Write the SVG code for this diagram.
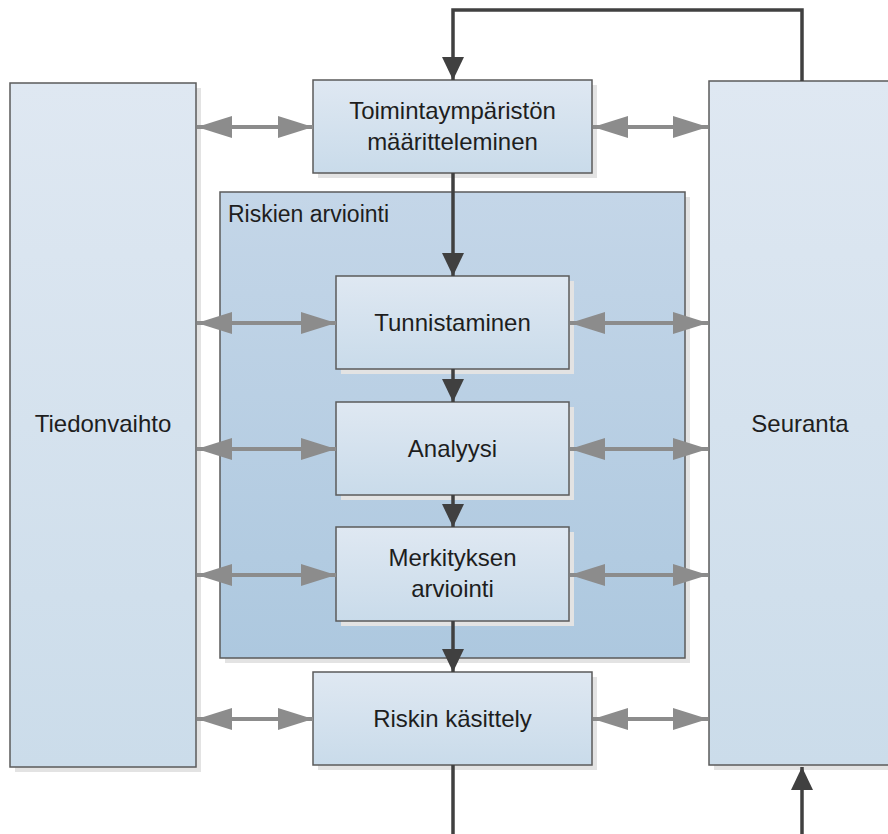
<svg xmlns="http://www.w3.org/2000/svg" width="888" height="834" viewBox="0 0 888 834">
<defs>
<linearGradient id="gNode" x1="0" y1="0" x2="0" y2="1"><stop offset="0" stop-color="#dfe8f2"/><stop offset="1" stop-color="#c9dbea"/></linearGradient>
<linearGradient id="gSide" x1="0" y1="0" x2="0" y2="1"><stop offset="0" stop-color="#dfe8f2"/><stop offset="1" stop-color="#cbdcea"/></linearGradient>
<linearGradient id="gCont" x1="0" y1="0" x2="0" y2="1"><stop offset="0" stop-color="#c4d6e8"/><stop offset="1" stop-color="#adc8df"/></linearGradient>
<marker id="dark" markerUnits="userSpaceOnUse" markerWidth="24" markerHeight="24" viewBox="0 0 24 24" refX="23" refY="12" orient="auto"><path d="M0,1 L23,12 L0,23 Z" fill="#404040"/></marker>
<marker id="gray" markerUnits="userSpaceOnUse" markerWidth="36" markerHeight="24" viewBox="0 0 36 24" refX="35" refY="12" orient="auto-start-reverse"><path d="M0,1 L35,12 L0,23 Z" fill="#8c8c8c"/></marker>
</defs>
<style>
.shadow{fill:#e3e3e3}
.box{stroke:#5b5b5b;stroke-width:1.5}
.lbl{font-family:"Liberation Sans",Arial,sans-serif;font-size:24px;fill:#1e1e1e;text-anchor:middle}
.dk{stroke:#404040;stroke-width:3.5;fill:none}
.gr{stroke:#8c8c8c;stroke-width:4;fill:none}
</style>
<rect width="888" height="834" fill="#ffffff"/>
<g id="tiedonvaihto">
<rect class="shadow" x="15" y="88" width="186" height="684"/>
<rect class="box" x="10" y="83" width="186" height="684" fill="url(#gSide)"/>
<text class="lbl" x="103" y="432">Tiedonvaihto</text>
</g>
<g id="seuranta">
<rect class="shadow" x="714" y="86" width="186" height="684"/>
<rect class="box" x="709" y="81" width="190" height="684" fill="url(#gSide)"/>
<text class="lbl" x="800" y="432">Seuranta</text>
</g>
<g id="riskien-arviointi">
<rect class="shadow" x="225" y="197" width="465" height="466"/>
<rect class="box" x="220" y="192" width="465" height="466" fill="url(#gCont)"/>
<text class="lbl" x="228" y="222" style="text-anchor:start;font-size:23px">Riskien arviointi</text>
</g>
<g id="toimintaymparisto">
<rect class="shadow" x="318" y="85" width="279" height="93"/>
<rect class="box" x="313" y="80" width="279" height="93" fill="url(#gNode)"/>
<text class="lbl" x="452.5" y="119">Toimintaympäristön</text>
<text class="lbl" x="452.5" y="150">määritteleminen</text>
</g>
<g id="tunnistaminen">
<rect class="shadow" x="341" y="281" width="233" height="93"/>
<rect class="box" x="336" y="276" width="233" height="93" fill="url(#gNode)"/>
<text class="lbl" x="452.5" y="331">Tunnistaminen</text>
</g>
<g id="analyysi">
<rect class="shadow" x="341" y="407" width="233" height="93"/>
<rect class="box" x="336" y="402" width="233" height="93" fill="url(#gNode)"/>
<text class="lbl" x="452.5" y="457">Analyysi</text>
</g>
<g id="merkityksen-arviointi">
<rect class="shadow" x="341" y="532" width="233" height="94"/>
<rect class="box" x="336" y="527" width="233" height="94" fill="url(#gNode)"/>
<text class="lbl" x="452.5" y="566">Merkityksen</text>
<text class="lbl" x="452.5" y="597">arviointi</text>
</g>
<g id="riskin-kasittely">
<rect class="shadow" x="318" y="677" width="279" height="93"/>
<rect class="box" x="313" y="672" width="279" height="93" fill="url(#gNode)"/>
<text class="lbl" x="452.5" y="727">Riskin käsittely</text>
</g>
<g id="connectors">
<path class="dk" d="M802,81 V10 H453 V80" marker-end="url(#dark)"/>
<path class="dk" d="M453,173 V276" marker-end="url(#dark)"/>
<path class="dk" d="M453,369 V402" marker-end="url(#dark)"/>
<path class="dk" d="M453,495 V527" marker-end="url(#dark)"/>
<path class="dk" d="M453,621 V672" marker-end="url(#dark)"/>
<path class="dk" d="M453,765 V836 H802 V767" marker-end="url(#dark)"/>
<path class="gr" d="M197,127 H313" marker-start="url(#gray)" marker-end="url(#gray)"/>
<path class="gr" d="M593,127 H708" marker-start="url(#gray)" marker-end="url(#gray)"/>
<path class="gr" d="M197,323 H336" marker-start="url(#gray)" marker-end="url(#gray)"/>
<path class="gr" d="M570,323 H708" marker-start="url(#gray)" marker-end="url(#gray)"/>
<path class="gr" d="M197,449 H336" marker-start="url(#gray)" marker-end="url(#gray)"/>
<path class="gr" d="M570,449 H708" marker-start="url(#gray)" marker-end="url(#gray)"/>
<path class="gr" d="M197,575 H336" marker-start="url(#gray)" marker-end="url(#gray)"/>
<path class="gr" d="M570,575 H708" marker-start="url(#gray)" marker-end="url(#gray)"/>
<path class="gr" d="M197,719 H313" marker-start="url(#gray)" marker-end="url(#gray)"/>
<path class="gr" d="M593,719 H708" marker-start="url(#gray)" marker-end="url(#gray)"/>
</g>
</svg>
